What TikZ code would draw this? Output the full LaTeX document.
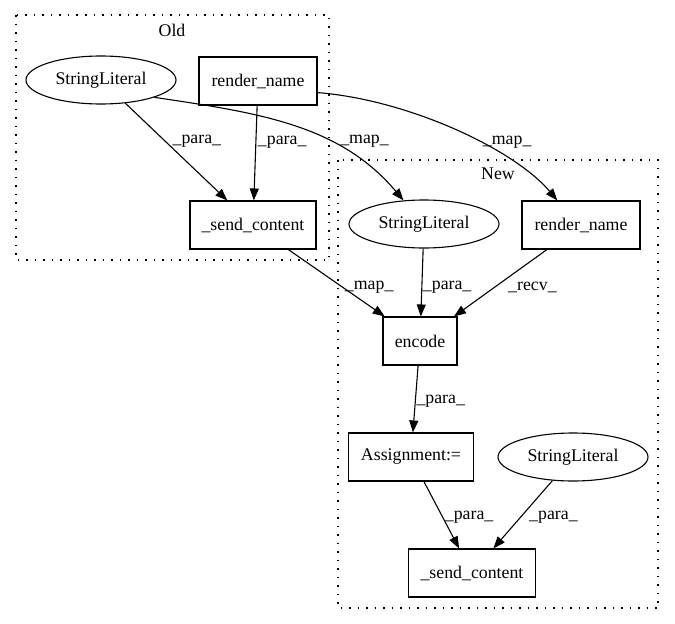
\documentclass[tikz,border=0pt]{standalone}
\usepackage{fontspec}
\setmainfont{Liberation Serif}
\usetikzlibrary{arrows.meta,shapes.geometric}

\tikzset{
  lbl/.style={anchor=west,inner sep=0pt,yshift=-2pt},
  cluster/.style={draw,dash pattern=on 1.5pt off 7pt}
}

\begin{document}
\begin{tikzpicture}[x=1pt,y=-1pt,line width=1.1pt,
    font=\fontsize{17.8}{20}\selectfont,
    >={Triangle[length=12pt,width=9pt]}]

      \useasboundingbox (0,0) rectangle (675,624);

      % clusters
      \draw[cluster] (16,15) rectangle (329,260);
      \draw[cluster] (338,160) rectangle (658,608);
      \node (old) at (172,30) {Old};
      \node (new) at (498,174) {New};

      \begin{scope}[every node/.style={draw,minimum height=48pt,inner sep=0pt}]
        \node[ellipse,minimum width=150pt] (1) at (101,80)  {StringLiteral};
        \node[minimum width=118pt]         (2) at (258,81)  {render\_name};
        \node[minimum width=126pt]         (3) at (253,225) {\_send\_content};
        \node[ellipse,minimum width=150pt] (4) at (424,224) {StringLiteral};
        \node[minimum width=118pt]         (5) at (581,225) {render\_name};
        \node[minimum width=74pt]          (6) at (420,341) {encode};
        \node[minimum width=125pt]         (7) at (411,457) {Assignment:=};
        \node[ellipse,minimum width=150pt] (8) at (573,457) {StringLiteral};
        \node[minimum width=127pt]         (9) at (472,573) {\_send\_content};
      \end{scope}

      \begin{scope}[every edge/.style={draw,->}]
        \path (1) edge node[lbl,pos=.37,xshift=9pt] {\_para\_} (3);
        \path (2) edge node[lbl,pos=.365,xshift=1.5pt] {\_para\_} (3);
        \path (3) edge node[lbl,pos=.53,xshift=5pt] {\_map\_} (6);
        \path (4) edge node[lbl,pos=.54,xshift=0.5pt] {\_para\_} (6);
        \path (5) edge node[lbl,pos=.53,xshift=10pt] {\_recv\_} (6);
        \path (6) edge node[lbl,pos=.51,xshift=0.5pt] {\_para\_} (7);
        \path (7) edge node[lbl,pos=.51,xshift=2.5pt] {\_para\_} (9);
        \path (8) edge node[lbl,pos=.51,xshift=6.4pt] {\_para\_} (9);
      \end{scope}

      % old -> new
      \draw[->] (1.-18) .. controls (260,113) and (340,125) .. (4.131)
        node[lbl,pos=.63,xshift=14pt] {\_map\_};
      \draw[->] (2.-11.5) .. controls (410,100) and (515,150) .. (5.134)
        node[lbl,pos=.58,xshift=6pt] {\_map\_};

    \end{tikzpicture}
\end{document}
